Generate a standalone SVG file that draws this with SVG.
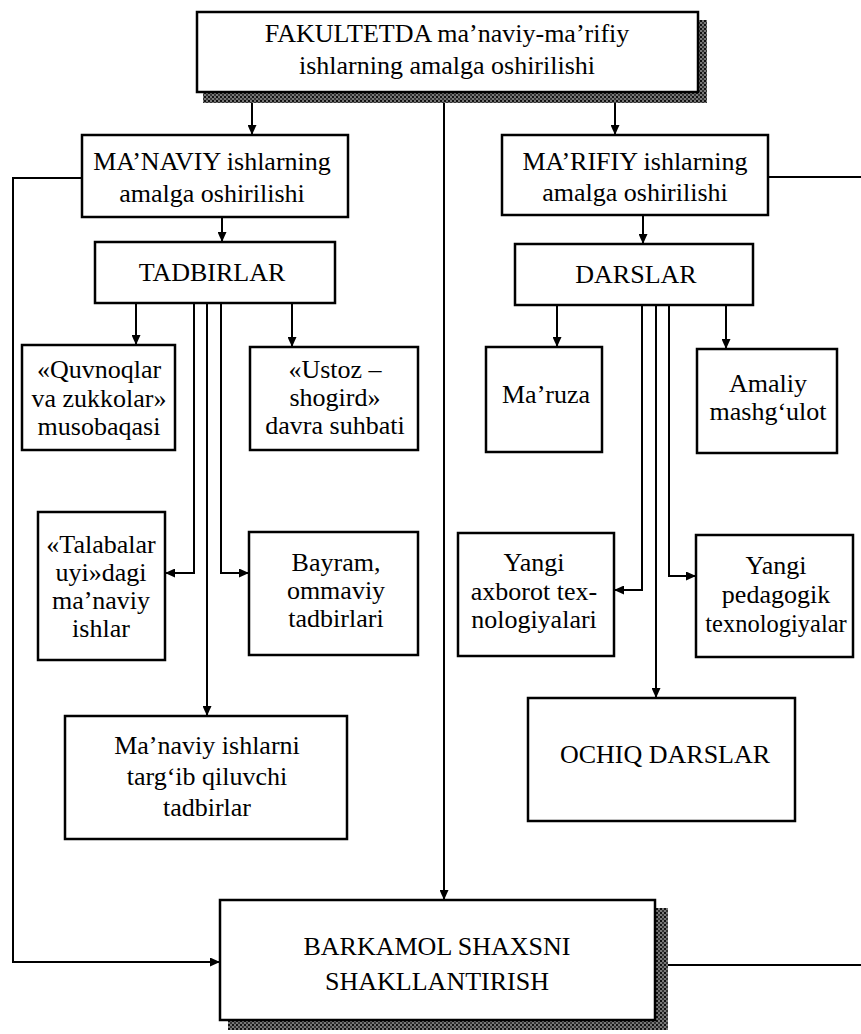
<svg xmlns="http://www.w3.org/2000/svg" width="861" height="1034" viewBox="0 0 861 1034">
<style>
.box{fill:#fff;stroke:#000;stroke-width:2.5}
.sh{fill:url(#shade)}
.t{font-family:"Liberation Serif","Times New Roman",serif;font-size:26px;fill:#000;text-anchor:middle}
.sm{font-size:24.5px}
.c{fill:none;stroke:#000;stroke-width:2}
</style>
<defs>
<pattern id="shade" width="4" height="4" patternUnits="userSpaceOnUse">
<rect width="4" height="4" fill="#777"/>
<rect x="0" y="0" width="2" height="2" fill="#111"/>
<rect x="2" y="2" width="2" height="2" fill="#333"/>
</pattern>
<marker id="ah" markerUnits="userSpaceOnUse" markerWidth="10" markerHeight="9" refX="10" refY="4.5" orient="auto">
<path d="M0,0 L10,4.5 L0,9 z" fill="#000"/>
</marker>
</defs>
<rect width="861" height="1034" fill="#fff"/>

<g id="connectors">
<path class="c" d="M252,92 V135" marker-end="url(#ah)"/>
<path class="c" d="M615,92 V135" marker-end="url(#ah)"/>
<path class="c" d="M444,92 V900" marker-end="url(#ah)"/>
<path class="c" d="M82,178 H13 V962 H220" marker-end="url(#ah)"/>
<path class="c" d="M768,177 H861"/>
<path class="c" d="M665,965 H861"/>
<path class="c" d="M222,217 V242" marker-end="url(#ah)"/>
<path class="c" d="M643,215 V244" marker-end="url(#ah)"/>
<path class="c" d="M136,303 V345" marker-end="url(#ah)"/>
<path class="c" d="M292,303 V347" marker-end="url(#ah)"/>
<path class="c" d="M194,303 V573 H165" marker-end="url(#ah)"/>
<path class="c" d="M207,303 V716" marker-end="url(#ah)"/>
<path class="c" d="M221,303 V573 H249" marker-end="url(#ah)"/>
<path class="c" d="M557,305 V347" marker-end="url(#ah)"/>
<path class="c" d="M726,305 V349" marker-end="url(#ah)"/>
<path class="c" d="M642,305 V590 H614" marker-end="url(#ah)"/>
<path class="c" d="M656,305 V698" marker-end="url(#ah)"/>
<path class="c" d="M669,305 V576 H696" marker-end="url(#ah)"/>
</g>

<g id="n-top">
<rect class="sh" x="203" y="20" width="504" height="83"/>
<rect class="box" x="197" y="12" width="501" height="80"/>
<text class="t" x="447" y="42">FAKULTETDA ma’naviy-ma’rifiy</text>
<text class="t" x="447" y="74">ishlarning amalga oshirilishi</text>
</g>

<g id="n-manaviy">
<rect class="box" x="82" y="135" width="266" height="82"/>
<text class="t" x="212" y="170">MA’NAVIY ishlarning</text>
<text class="t" x="212" y="202">amalga oshirilishi</text>
</g>

<g id="n-marifiy">
<rect class="box" x="502" y="135" width="266" height="80"/>
<text class="t" x="635" y="170">MA’RIFIY ishlarning</text>
<text class="t" x="635" y="201">amalga oshirilishi</text>
</g>

<g id="n-tadbirlar">
<rect class="box" x="95" y="242" width="240" height="61"/>
<text class="t" x="212" y="281">TADBIRLAR</text>
</g>

<g id="n-darslar">
<rect class="box" x="515" y="244" width="238" height="61"/>
<text class="t" x="636" y="283">DARSLAR</text>
</g>

<g id="n-quvnoqlar">
<rect class="box" x="22" y="345" width="153" height="105"/>
<text class="t" x="99" y="378">«Quvnoqlar</text>
<text class="t" x="99" y="407">va zukkolar»</text>
<text class="t" x="99" y="435">musobaqasi</text>
</g>

<g id="n-ustoz">
<rect class="box" x="250" y="347" width="168" height="103"/>
<text class="t" x="335" y="378">«Ustoz –</text>
<text class="t" x="335" y="406">shogird»</text>
<text class="t" x="335" y="434">davra suhbati</text>
</g>

<g id="n-talabalar">
<rect class="box" x="38" y="512" width="127" height="148"/>
<text class="t" x="101" y="553">«Talabalar</text>
<text class="t" x="101" y="581">uyi»dagi</text>
<text class="t" x="101" y="609">ma’naviy</text>
<text class="t" x="101" y="637">ishlar</text>
</g>

<g id="n-bayram">
<rect class="box" x="249" y="532" width="169" height="123"/>
<text class="t" x="336" y="571">Bayram,</text>
<text class="t" x="336" y="599">ommaviy</text>
<text class="t" x="336" y="627">tadbirlari</text>
</g>

<g id="n-targib">
<rect class="box" x="65" y="716" width="282" height="123"/>
<text class="t" x="207" y="754">Ma’naviy ishlarni</text>
<text class="t" x="207" y="785">targ‘ib qiluvchi</text>
<text class="t" x="207" y="816">tadbirlar</text>
</g>

<g id="n-maruza">
<rect class="box" x="486" y="347" width="116" height="105"/>
<text class="t" x="546" y="403">Ma’ruza</text>
</g>

<g id="n-amaliy">
<rect class="box" x="697" y="349" width="140" height="104"/>
<text class="t" x="768" y="392">Amaliy</text>
<text class="t" x="768" y="420">mashg‘ulot</text>
</g>

<g id="n-axborot">
<rect class="box" x="458" y="533" width="156" height="123"/>
<text class="t" x="534" y="571">Yangi</text>
<text class="t" x="534" y="600">axborot tex-</text>
<text class="t" x="534" y="628">nologiyalari</text>
</g>

<g id="n-pedagogik">
<rect class="box" x="696" y="535" width="157" height="122"/>
<text class="t" x="776" y="574">Yangi</text>
<text class="t" x="776" y="603">pedagogik</text>
<text class="t sm" x="776" y="632">texnologiyalar</text>
</g>

<g id="n-ochiq">
<rect class="box" x="528" y="698" width="267" height="123"/>
<text class="t" x="665" y="763">OCHIQ DARSLAR</text>
</g>

<g id="n-barkamol">
<rect class="sh" x="228" y="908" width="440" height="122"/>
<rect class="box" x="220" y="900" width="435" height="120"/>
<text class="t" x="437" y="955">BARKAMOL SHAXSNI</text>
<text class="t" x="437" y="990">SHAKLLANTIRISH</text>
</g>
</svg>
